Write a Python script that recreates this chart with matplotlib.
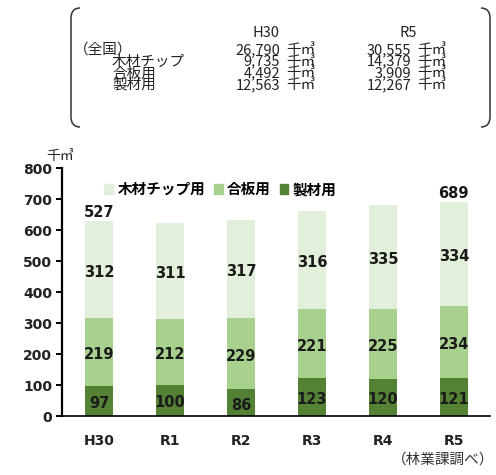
import matplotlib
matplotlib.use("Agg")
import matplotlib.pyplot as plt
from matplotlib.path import Path
from matplotlib.patches import PathPatch, Patch

plt.rcParams['font.family'] = ['DejaVu Sans', 'Noto Sans CJK JP']
JP = ['Noto Sans CJK JP', 'DejaVu Sans']

# data (千㎥)
years = ['H30', 'R1', 'R2', 'R3', 'R4', 'R5']
seizai = [97, 100, 86, 123, 120, 121]       # 製材用
gouban = [219, 212, 229, 221, 225, 234]     # 合板用
chip = [312, 311, 317, 316, 335, 334]       # 木材チップ用
total_labels = ['527', '', '', '', '', '689']

# summary box
box_rows = ['（全国）', '木材チップ', '合板用', '製材用']
box_h30 = ['26,790', '9,735', '4,492', '12,563']
box_r5 = ['30,555', '14,379', '3,909', '12,267']

c_dark = '#548235'
c_mid = '#a9d18e'
c_light = '#e2efda'

fig = plt.figure(figsize=(4.96, 4.75), dpi=100)
ax = fig.add_axes([0.125, 0.1242, 0.863, 0.5221])

x = list(range(len(years)))
w = 0.4
bot2 = seizai
bot3 = [a + b for a, b in zip(seizai, gouban)]
ax.bar(x, seizai, w, color=c_dark, zorder=2)
ax.bar(x, gouban, w, bottom=bot2, color=c_mid, zorder=2)
ax.bar(x, chip, w, bottom=bot3, color=c_light, zorder=2)

lab = dict(fontsize=10.5, fontweight='bold', ha='center', va='center', color='#1a1a1a', zorder=3)
for i in x:
    ax.text(i, seizai[i] / 2 - 8, str(seizai[i]), **lab)
    ax.text(i, bot2[i] + gouban[i] / 2 - 8, str(gouban[i]), **lab)
    ax.text(i, bot3[i] + chip[i] / 2 - 8, str(chip[i]), **lab)
    if total_labels[i]:
        ax.annotate(total_labels[i], (i, bot3[i] + chip[i]), xytext=(0, 1),
                    textcoords='offset points', ha='center', va='bottom',
                    fontsize=10.5, fontweight='bold', color='#1a1a1a')

ax.set_xlim(-0.52, 5.51)
ax.set_ylim(0, 800)
ax.set_yticks(range(0, 801, 100))
ax.set_xticks(x)
ax.set_xticklabels(years)
for s in ['top', 'right']:
    ax.spines[s].set_visible(False)
ax.spines['left'].set_linewidth(1.6)
ax.spines['bottom'].set_linewidth(1.2)
ax.tick_params(axis='y', length=4, width=1.4, labelsize=10, pad=3)
ax.tick_params(axis='x', length=0, labelsize=10, pad=13)
for t in ax.get_xticklabels() + ax.get_yticklabels():
    t.set_fontweight('bold')
    t.set_color('#222222')

handles = [Patch(color=c_light, label='木材チップ用'),
           Patch(color=c_mid, label='合板用'),
           Patch(color=c_dark, label='製材用')]
ax.legend(handles=handles, loc='center left', bbox_to_anchor=(0.085, 0.915),
          ncol=3, frameon=False, handlelength=0.6, handleheight=0.6,
          handletextpad=0.3, columnspacing=0.6, borderaxespad=0,
          prop={'family': JP, 'weight': 'bold', 'size': 10.5})

# overlay in pixel coordinates for the text box and notes
ov = fig.add_axes([0, 0, 1, 1])
ov.set_xlim(0, 496)
ov.set_ylim(475, 0)
ov.axis('off')
ov.patch.set_alpha(0)

def bracket(xe, xc, y0, y1):
    verts = [(xe, y0), (xc, y0), (xc, y0 + 10), (xc, y1 - 10), (xc, y1), (xe, y1)]
    codes = [Path.MOVETO, Path.CURVE3, Path.CURVE3, Path.LINETO, Path.CURVE3, Path.CURVE3]
    ov.add_patch(PathPatch(Path(verts, codes), fill=False, lw=1.1, ec='#333333'))

bracket(80, 71, 8, 127)
bracket(481, 490, 8, 127)

# box columns as multi-line blocks with tight line spacing
tk = dict(family=JP, fontsize=10.5, color='#222222', va='center', linespacing=0.78)
ov.text(266, 33, 'H30', ha='center', **tk)
ov.text(408, 33, 'R5', ha='center', **tk)
ov.text(74, 50, box_rows[0], ha='left', **tk)
ov.text(112, 73.4, '\n'.join(box_rows[1:]), ha='left', multialignment='left', **tk)
unit = '\n'.join(['千㎥'] * len(box_h30))
ov.text(280, 67.5, '\n'.join(box_h30), ha='right', multialignment='right', **tk)
ov.text(286, 67.5, unit, ha='left', **tk)
ov.text(411, 67.5, '\n'.join(box_r5), ha='right', multialignment='right', **tk)
ov.text(417, 67.5, unit, ha='left', **tk)

ov.text(60, 156, '千㎥', ha='center', va='center', family=JP, fontsize=10, color='#222222')
ov.text(494, 460, '（林業課調べ）', ha='right', va='center', family=JP, fontsize=10.5, color='#333333')

fig.savefig('out.png', dpi=100)
